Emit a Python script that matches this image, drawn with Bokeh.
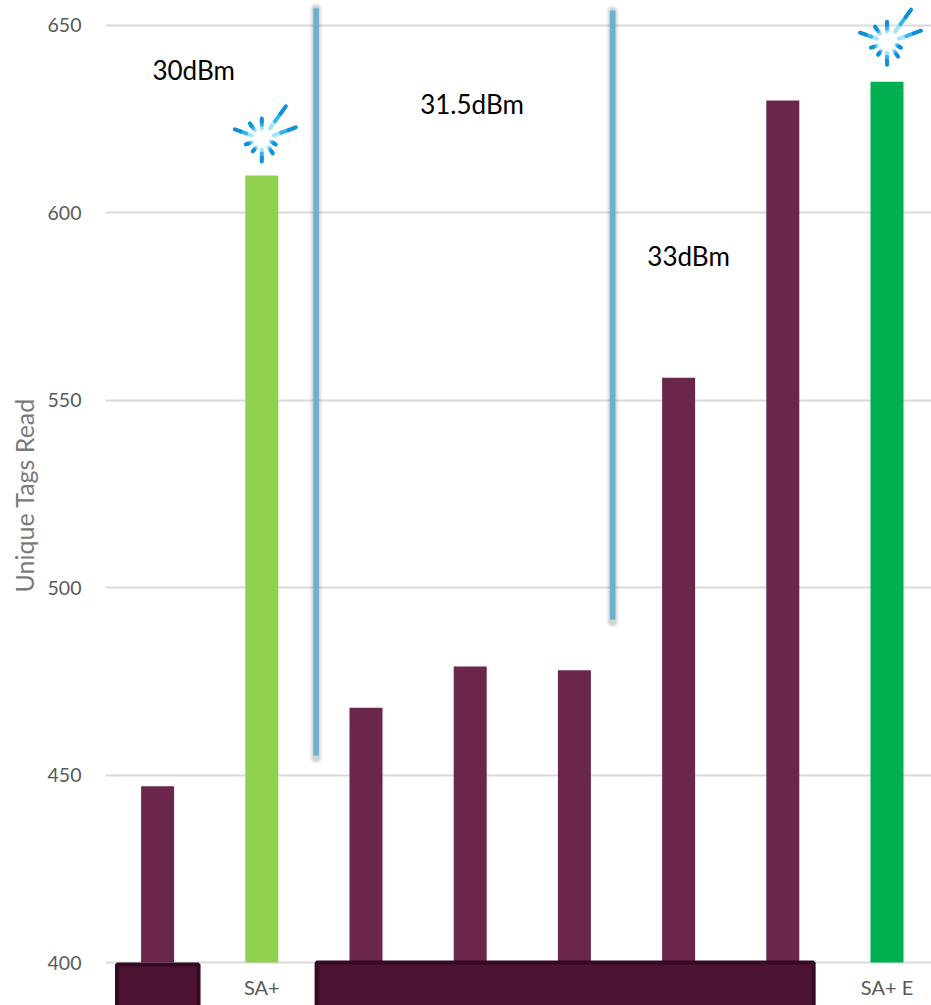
from bokeh.plotting import figure
from bokeh.embed import file_html
from bokeh.resources import INLINE
from bokeh.models import Range1d, FixedTicker, Title, ColumnDataSource
from bokeh.core.properties import value

categories = ["", "SA+", "", "", "", "", "", "SA+ E"]
tags = [447, 610, 468, 479, 478, 556, 630, 635]
bar_colors = ["#6B264B", "#92D050", "#6B264B", "#6B264B", "#6B264B", "#6B264B", "#6B264B", "#00B050"]
y_ticks = [400, 450, 500, 550, 600, 650]
power_labels = ["30dBm", "31.5dBm", "33dBm"]
power_x = [-0.05, 2.52, 4.70]
power_y = [638.1, 629.1, 588.5]
divider_x = [1.521, 4.367]
divider_top = [654.6, 654.0]
divider_bottom = [455.2, 491.5]
mask_x0 = [-0.39, 1.526]
mask_x1 = [0.393, 6.296]
mask_top = [399.5, 400.0]
burst_bars = [1, 7]
burst_lift = [40, 43]
# spoke ends, in pixels from the burst centre: x0, y0, x1, y1
spokes = [(8, 7, 24, 29), (12, 0, 34, 8), (0, 7, 0, 17), (-7, 5, -12, 12), (-10, 0, -27, 6),
          (-10, -7, -16, -9), (-6, -12, -9, -16), (0, -14, 0, -26), (7, -12, 11, -18), (9, -6, 14, -9)]
spoke_tones = ["#A5E3F9", "#35B5EC", "#108FD8"]

PX_Y = 937 / 250
PX_X = 104.2
FONT = "Lato"

p = figure(width=931, height=1005, output_backend="svg", toolbar_location=None,
           x_range=Range1d(-0.5, 7.427), y_range=Range1d(388.53, 656.67),
           min_border_left=105, min_border_right=0, min_border_top=0, min_border_bottom=0,
           outline_line_color=None, background_fill_color="white")
p.frame_width = 826
p.frame_height = 1005

p.xgrid.visible = False
p.ygrid.ticker = FixedTicker(ticks=y_ticks)
p.ygrid.grid_line_color = "#D9D9D9"
p.ygrid.grid_line_width = 2

ya = p.yaxis[0]
ya.ticker = FixedTicker(ticks=y_ticks)
ya.axis_line_color = None
ya.major_tick_line_color = None
ya.minor_tick_line_color = None
ya.major_label_text_font = FONT
ya.major_label_text_font_size = "19.5px"
ya.major_label_text_color = "#595959"
ya.major_label_standoff = 18

xa = p.xaxis[0]
xa.ticker = FixedTicker(ticks=list(range(len(categories))))
xa.major_label_overrides = {i: c for i, c in enumerate(categories)}
xa.axis_line_color = None
xa.major_tick_line_color = None
xa.minor_tick_line_color = None
xa.major_label_text_font = FONT
xa.major_label_text_font_size = "20px"
xa.major_label_text_color = "#595959"
xa.major_label_standoff = 6
xa.fixed_location = 400

src = ColumnDataSource(dict(x=list(range(len(tags))), top=tags, color=bar_colors))
p.vbar(x="x", bottom=400, top="top", width=33 / PX_X, fill_color="color", line_color=None, source=src)

# dividers with their soft shadow
for w, a in ((13, 0.03), (11, 0.04), (9, 0.05), (7, 0.06)):
    p.segment(x0=divider_x, y0=[t - 1 / PX_Y for t in divider_top],
              x1=divider_x, y1=[b - 2 / PX_Y for b in divider_bottom],
              line_color="#000000", line_alpha=a, line_width=w, line_cap="round")
p.segment(x0=divider_x, y0=divider_top, x1=divider_x, y1=divider_bottom, line_color="#6BB1CF", line_width=5.5)

# masks
p.quad(left=mask_x0, right=mask_x1, top=mask_top, bottom=380, fill_color="#4C1332",
       line_color="#370A23", line_width=4)

# bursts
for b, lift in zip(burst_bars, burst_lift):
    cx, cy = b, tags[b] + lift / PX_Y
    n = len(spoke_tones)
    for x0, y0, x1, y1 in spokes:
        for k, tone in enumerate(spoke_tones):
            ax, ay = x0 + (x1 - x0) * k / n, y0 + (y1 - y0) * k / n
            bx, by = x0 + (x1 - x0) * (k + 1) / n, y0 + (y1 - y0) * (k + 1) / n
            p.segment(x0=[cx + ax / PX_X], y0=[cy + ay / PX_Y], x1=[cx + bx / PX_X], y1=[cy + by / PX_Y],
                      line_color=tone, line_width=4, line_cap="round")

p.text(x=power_x, y=power_y, text=power_labels, text_font=value(FONT), text_font_size="26px",
       text_color="#000000", text_align="left", text_baseline="middle")

p.add_layout(Title(text="Unique Tags Read", align="left", offset=413, standoff=12,
                   text_font=FONT, text_font_size="25px", text_font_style="normal",
                   text_color="#7A7A7A"), "left")

open("out.html", "w").write(file_html(p, INLINE))
